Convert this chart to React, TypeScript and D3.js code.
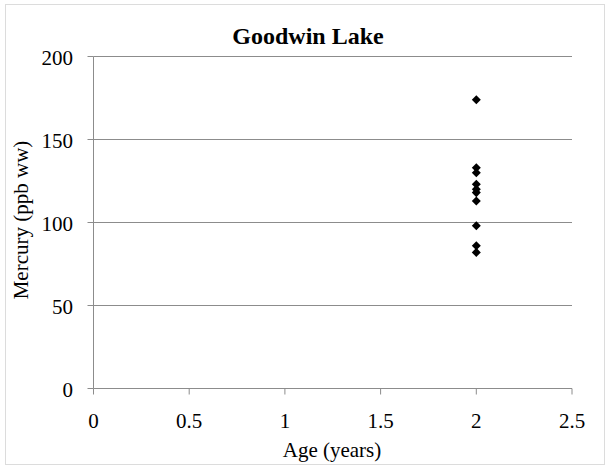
import React from "react";
import * as d3 from "d3";

const ages = [2, 2, 2, 2, 2, 2, 2, 2, 2, 2];
const mercury = [174, 133, 130, 123, 120, 118, 113, 98, 86, 82];
const xTicks = [0, 0.5, 1, 1.5, 2, 2.5];
const yTicks = [0, 50, 100, 150, 200];
const title = "Goodwin Lake";
const xLabel = "Age (years)";
const yLabel = "Mercury (ppb ww)";

export default function App() {
  const W = 605, H = 465;
  const left = 93.5, right = 572, top = 56.5, bottom = 388.5;
  const x = d3.scaleLinear().domain([0, 2.5]).range([left, right]);
  const y = d3.scaleLinear().domain([0, 200]).range([bottom, top]);
  const diamond = d3.symbol().type(d3.symbolDiamond2).size(52)() as string;
  const font = "'Liberation Serif', 'Times New Roman', serif";
  const axisColor = "#8c8c8c";
  return (
    <svg width={W} height={H} style={{ position: "absolute", left: 0, top: 0 }}>
      <rect x={0} y={0} width={W} height={H} fill="#fff" />
      <rect x={5.5} y={4.5} width={W - 6} height={H - 5} fill="none" stroke="#dcdcdc" />
      <text x={308} y={44} textAnchor="middle" fontFamily={font} fontWeight="bold" fontSize={24}>{title}</text>
      {yTicks.map((t) => (
        <g key={"y" + t}>
          {t > 0 && (
            <line x1={left} x2={right} y1={y(t)} y2={y(t)} stroke={axisColor} strokeWidth={1} />
          )}
          <line x1={left - 6} x2={left} y1={y(t)} y2={y(t)} stroke={axisColor} />
          <text x={73} y={y(t) + 8} textAnchor="end" fontFamily={font} fontSize={21}>{t}</text>
        </g>
      ))}
      <line x1={left} x2={left} y1={top} y2={bottom} stroke={axisColor} />
      <line x1={left} x2={right} y1={bottom} y2={bottom} stroke={axisColor} />
      {xTicks.map((t) => (
        <g key={"x" + t}>
          <line x1={x(t)} x2={x(t)} y1={bottom} y2={bottom + 6} stroke={axisColor} />
          <text x={x(t)} y={bottom + 39} textAnchor="middle" fontFamily={font} fontSize={21}>{t}</text>
        </g>
      ))}
      <text x={332} y={457} textAnchor="middle" fontFamily={font} fontSize={21}>{xLabel}</text>
      <text transform={`translate(28,220) rotate(-90)`} textAnchor="middle" fontFamily={font} fontSize={21}>{yLabel}</text>
      {mercury.map((v, i) => (
        <path key={i} d={diamond} transform={`translate(${x(ages[i])},${y(v)})`} fill="#000" />
      ))}
    </svg>
  );
}
